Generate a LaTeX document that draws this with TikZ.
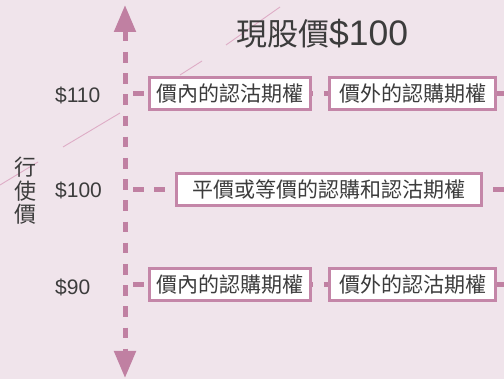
\documentclass[tikz,border=0pt]{standalone}
\usepackage{fontspec}
\setmainfont{Liberation Sans}
\newfontfamily\cjk{Noto Sans CJK TC}
\usetikzlibrary{arrows.meta}
\definecolor{bgc}{RGB}{240,228,235}
\definecolor{mauve}{RGB}{192,128,162}
\definecolor{boxline}{RGB}{196,134,168}
\definecolor{diag}{RGB}{222,172,198}
\definecolor{txt}{RGB}{60,60,60}
\tikzset{
  axisline/.style={draw=mauve, line width=5pt, dash pattern=on 10.6pt off 10.6pt,
    {Triangle[width=21pt,length=27pt]}-{Triangle[width=21pt,length=27pt]}},
  rowline/.style={draw=mauve, line width=5pt, dash pattern=on 10.6pt off 10.6pt, dash phase=13.2pt},
  optbox/.style={draw=boxline, line width=3pt, fill=white, inner sep=0pt,
    minimum height=32pt, text=txt, font=\cjk\fontsize{21}{24}\selectfont},
  price/.style={anchor=west, text=txt, inner sep=0pt, font=\fontsize{21}{24}\selectfont},
  diagline/.style={draw=diag, line width=0.9pt}
}
\begin{document}
\begin{tikzpicture}[x=1pt,y=-1pt]
\fill[bgc] (0,0) rectangle (504,379);
\useasboundingbox (0,0) rectangle (504,379);
% faint diagonal
\draw[diagline] (0,185) -- (38,162);
\draw[diagline] (63,147) -- (120,113);
\draw[diagline] (180,75) -- (202,61);
\draw[diagline] (226,45) -- (280,7);
% axis
\coordinate (axtop) at (125,5);
\coordinate (axbot) at (125,378);
\draw[axisline] (axtop) -- (axbot);
% row lines
\coordinate (r1a) at (125,94);
\coordinate (r1b) at (506,94);
\coordinate (r2a) at (125,190);
\coordinate (r2b) at (506,190);
\coordinate (r3a) at (125,285);
\coordinate (r3b) at (506,285);
\draw[rowline] (r1a) -- (r1b);
\draw[rowline] (r2a) -- (r2b);
\draw[rowline] (r3a) -- (r3b);
% boxes
\node[optbox, minimum width=161pt] (b11) at (230,93.5) {價內的認沽期權};
\node[optbox, minimum width=166pt] (b12) at (412.5,93.5) {價外的認購期權};
\node[optbox, minimum width=305pt] (b2) at (329,189.5) {平價或等價的認購和認沽期權};
\node[optbox, minimum width=161pt] (b31) at (230,285) {價內的認購期權};
\node[optbox, minimum width=166pt] (b32) at (412.5,285) {價外的認沽期權};
% labels
\node[price] (p110) at (55,95) {\$110};
\node[price] (p100) at (55,190.5) {\$100};
\node[price] (p90) at (55,287) {\$90};
\node[text=txt, inner sep=0pt, align=center, font=\cjk\fontsize{22}{23.5}\selectfont] (strike) at (25,191) {行\\使\\價};
\node[anchor=west, text=txt, inner sep=0pt] (title) at (236,34) {{\cjk\fontsize{31}{34}\selectfont 現股價}{\fontsize{35.5}{38}\selectfont\$100}};
\end{tikzpicture}
\end{document}
